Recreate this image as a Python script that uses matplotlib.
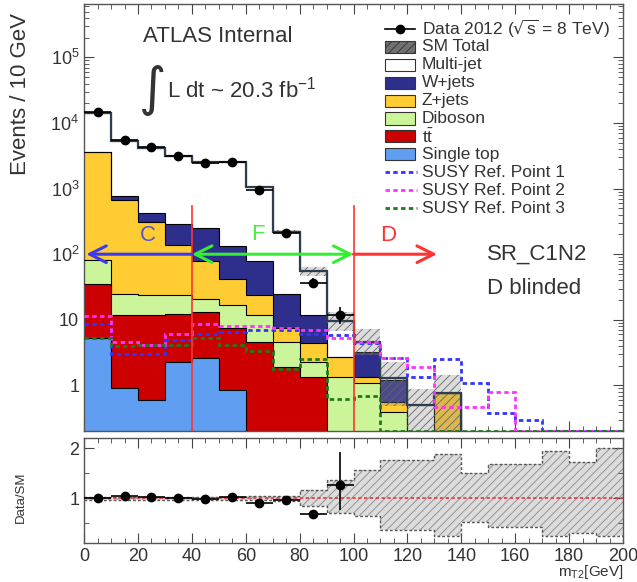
import numpy as np
import matplotlib
matplotlib.use("Agg")
import matplotlib.pyplot as plt
from matplotlib.patches import Rectangle
from matplotlib.lines import Line2D

plt.rcParams['font.family'] = ['Liberation Sans', 'DejaVu Sans']
plt.rcParams['hatch.linewidth'] = 0.6

# binning: 20 bins of 10 GeV
edges = np.arange(0, 210, 10)

# observed data (signal region D above 100 GeV is blinded)
data_counts = np.array([14500, 5500, 4300, 3100, 2450, 2550, 950, 210, 37, 12])

# background components, bottom of the stack first
single_top = np.array([5.2, 0.9, 0.6, 2.3, 2.6, 0.85, 0, 0, 0, 0, 0, 0, 0, 0, 0, 0, 0, 0, 0, 0])
ttbar = np.array([30, 10.8, 11.1, 10.1, 10.4, 6.6, 4.6, 1.9, 1.35, 0, 0, 0, 0, 0, 0, 0, 0, 0, 0, 0])
diboson = np.array([45, 13.3, 11.8, 11.1, 8.0, 9.6, 7.1, 2.7, 0.95, 1.35, 1.07, 0.4, 0, 0, 0, 0, 0, 0, 0, 0])
zjets = np.array([3500, 635, 284, 115, 59, 25, 12.3, 2.8, 2.1, 1.35, 0.29, 0.16, 0, 0.76, 0, 0, 0, 0, 0, 0])
wjets = np.array([5, 104, 118, 151, 169, 93, 56, 17.6, 7.4, 0, 1.9, 0.64, 0, 0, 0, 0, 0, 0, 0, 0])
multijet = np.array([10815, 4536, 3775, 2810, 2251, 2365, 970, 195, 43.2, 6.8, 1.34, 0.1, 0.5, 0, 0, 0, 0, 0, 0, 0])

# relative uncertainty on the SM total
unc_up = np.array([0.03, 0.03, 0.03, 0.03, 0.03, 0.03, 0.04, 0.05, 0.16, 0.37,
                   0.57, 0.77, 0.77, 0.88, 0.50, 0.69, 0.69, 0.95, 0.72, 1.00])
unc_dn = np.array([0.03, 0.03, 0.03, 0.03, 0.03, 0.03, 0.04, 0.05, 0.16, 0.30,
                   0.36, 0.63, 0.63, 0.76, 0.47, 0.57, 0.57, 0.76, 0.70, 0.76])

# signal reference points
susy1 = np.array([8.5, 3.0, 3.0, 5.0, 6.0, 6.5, 7.0, 7.0, 6.0, 5.8, 4.5, 2.6, 1.36, 2.5, 1.1, 0.38, 0.3, 0.2, 0.2, 0.2])
susy2 = np.array([11.5, 4.6, 4.2, 6.0, 8.5, 8.0, 8.0, 7.5, 7.0, 5.2, 4.6, 2.6, 1.9, 0.47, 0.47, 0.8, 0.2, 0.2, 0.2, 0.2])
susy3 = np.array([5.2, 4.0, 4.1, 4.1, 5.2, 4.1, 3.4, 1.8, 2.5, 0.63, 0.7, 0.2, 0.2, 0.2, 0.2, 0.2, 0.2, 0.2, 0.2, 0.2])

# ratio panel error bars on the data points
ratio_err_up = np.array([0.01, 0.01, 0.01, 0.01, 0.02, 0.02, 0.03, 0.04, 0.05, 0.66])
ratio_err_dn = np.array([0.01, 0.01, 0.01, 0.01, 0.02, 0.02, 0.03, 0.04, 0.05, 0.51])

components = [
    ("Single top", single_top, "#5f9ef0"),
    ("t$\\mathregular{\\bar{t}}$", ttbar, "#cc0000"),
    ("Diboson", diboson, "#ccf59a"),
    ("Z+jets", zjets, "#ffcc33"),
    ("W+jets", wjets, "#2e2e8c"),
    ("Multi-jet", multijet, "#ffffff"),
]
susy_styles = [("SUSY Ref. Point 1", susy1, "#3333ff"),
               ("SUSY Ref. Point 2", susy2, "#ff33ff"),
               ("SUSY Ref. Point 3", susy3, "#1f7a1f")]

TXT = "#333333"
tiny = 1e-3
W, H = 637, 582

fig = plt.figure(figsize=(W / 100, H / 100), dpi=100)
ax = fig.add_axes([0.132, 0.259, 0.846, 0.734])
axr = fig.add_axes([0.132, 0.067, 0.846, 0.180])

ax.set_yscale("log")
ax.set_xlim(0, 200)
ax.set_ylim(0.2, 6.5e5)

centers = 0.5 * (edges[:-1] + edges[1:])

# stacked backgrounds
base = np.zeros(len(centers))
for name, vals, col in components:
    top = base + vals
    ax.stairs(np.where(top > 0, top, tiny), edges,
              baseline=np.where(base > 0, base, tiny), fill=True,
              color=col, lw=0, zorder=2)
    base = top
base = np.zeros(len(centers))
for name, vals, col in components:
    top = base + vals
    ax.stairs(np.where(top > 0, top, tiny), edges, baseline=None,
              color="black", lw=0.8, zorder=3)
    base = top
total = base

# uncertainty band on the SM total
for i in range(len(centers)):
    if total[i] <= 0:
        continue
    ax.fill_between([edges[i], edges[i + 1]], total[i] * (1 - unc_dn[i]),
                    total[i] * (1 + unc_up[i]), facecolor=(0.55, 0.55, 0.55, 0.3),
                    edgecolor="#666666", hatch="////", lw=0, zorder=4)
ax.stairs(np.where(total > 0, total, tiny), edges, baseline=None,
          color="#2f3e4e", lw=1.6, zorder=5)

# signal reference points
dash = (0, (1.6, 1.2))
for name, vals, col in susy_styles:
    ax.stairs(vals, edges, baseline=None, color=col, lw=2, ls=dash, zorder=6)

# data
nd = len(data_counts)
ax.errorbar(centers[:nd], data_counts, yerr=np.sqrt(data_counts), xerr=5,
            fmt="o", color="black", ms=6, lw=1.2, capsize=0, zorder=8)

# region boundaries and arrows
for xv in (40, 100):
    ax.plot([xv, xv], [0.2, 550], color="#ff3333", lw=1.2, zorder=7)
arrow_kw = dict(lw=2.2, mutation_scale=30, shrinkA=0, shrinkB=0)
ax.annotate("", xy=(0.8, 100), xytext=(40, 100),
            arrowprops=dict(arrowstyle="->", color="#3a3af0", **arrow_kw), zorder=9)
ax.annotate("", xy=(40, 100), xytext=(100, 100),
            arrowprops=dict(arrowstyle="<->", color="#33ee33", **arrow_kw), zorder=9)
ax.annotate("", xy=(131, 100), xytext=(100, 100),
            arrowprops=dict(arrowstyle="->", color="#ff3333", **arrow_kw), zorder=9)
ax.text(23.5, 195, "C", color="#5555dd", fontsize=16, ha="center", va="center", zorder=9)
ax.text(64.5, 200, "F", color="#44ee44", fontsize=16, ha="center", va="center", zorder=9)
ax.text(113, 195, "D", color="#ff3333", fontsize=16, ha="center", va="center", zorder=9)


def fx(px):
    return px / W


def fy(py):
    return 1 - py / H


fig.text(fx(143), fy(37), "ATLAS Internal", fontsize=16, color=TXT, ha="left", va="center")
fig.text(fx(139), fy(90), "\u222b", fontsize=38, color=TXT, ha="left", va="center",
         family="DejaVu Sans")
fig.text(fx(167), fy(90), "L dt ~ 20.3 fb$^{\\mathregular{-1}}$", fontsize=16,
         color=TXT, ha="left", va="center")
fig.text(fx(487), fy(254), "SR_C1N2", fontsize=16, color=TXT, ha="left", va="center")
fig.text(fx(487), fy(289), "D blinded", fontsize=16, color=TXT, ha="left", va="center")

# legend, one row per entry
rows = [("Data 2012 ($\\sqrt{\\mathregular{s}}$ = 8 TeV)", "data", None),
        ("SM Total", "box", ("#707070", "////"))]
for name, vals, col in reversed(components):
    rows.append((name, "box", (col, None)))
for name, vals, col in susy_styles:
    rows.append((name, "line", col))
y0, dy = 29, 17.9
for i, (label, kind, sty) in enumerate(rows):
    yc = y0 + dy * i
    if kind == "data":
        fig.add_artist(Line2D([fx(385), fx(415)], [fy(yc), fy(yc)], color="black", lw=1.2))
        fig.add_artist(Line2D([fx(400)], [fy(yc)], color="black", marker="o", ms=6))
    elif kind == "box":
        col, hatch = sty
        fig.add_artist(Rectangle((fx(385), fy(yc + 6)), 30 / W, 12 / H,
                                 transform=fig.transFigure, facecolor=col,
                                 edgecolor="#333333", lw=0.8, hatch=hatch))
    else:
        fig.add_artist(Line2D([fx(385), fx(417)], [fy(yc), fy(yc)], color=sty, lw=2, ls=dash))
    fig.text(fx(422), fy(yc), label, fontsize=12.5, color=TXT, ha="left", va="center")

# axis cosmetics
for a in (ax, axr):
    a.tick_params(which="both", direction="in", top=True, right=True,
                  labelsize=13, labelcolor=TXT, color="#444444")
    a.tick_params(which="major", length=7)
    a.tick_params(which="minor", length=3.5)
    a.xaxis.set_major_locator(matplotlib.ticker.MultipleLocator(20))
    a.xaxis.set_minor_locator(matplotlib.ticker.MultipleLocator(5))
    for s in a.spines.values():
        s.set_color("#555555")
        s.set_linewidth(1.0)
ax.tick_params(labelbottom=False)
ax.xaxis.set_major_formatter(matplotlib.ticker.NullFormatter())
ax.yaxis.set_major_locator(matplotlib.ticker.FixedLocator([1, 10, 1e2, 1e3, 1e4, 1e5]))
ax.yaxis.set_minor_locator(matplotlib.ticker.LogLocator(base=10, subs=np.arange(2, 10), numticks=20))


def log_fmt(v, pos):
    if v == 1:
        return "1"
    if v == 10:
        return "10"
    return "10$^{\\mathregular{%d}}$" % int(round(np.log10(v)))


ax.yaxis.set_major_formatter(matplotlib.ticker.FuncFormatter(log_fmt))
ax.yaxis.set_minor_formatter(matplotlib.ticker.NullFormatter())

# ratio panel
axr.set_xlim(0, 200)
axr.set_ylim(0.1, 2.2)
axr.yaxis.set_major_locator(matplotlib.ticker.FixedLocator([1, 2]))
axr.yaxis.set_minor_locator(matplotlib.ticker.FixedLocator([0.5, 1.5]))
axr.stairs(1 + unc_up, edges, baseline=1 - unc_dn, fill=True, facecolor="#dcdcdc",
           edgecolor="#888888", hatch="////", lw=0, zorder=1)
axr.stairs(1 + unc_up, edges, baseline=None, color="#555555", lw=1, ls=(0, (2, 1.5)), zorder=2)
axr.stairs(1 - unc_dn, edges, baseline=None, color="#555555", lw=1, ls=(0, (2, 1.5)), zorder=2)
axr.axhline(1, color="#ee3333", lw=1.2, ls=(0, (2, 1.5)), zorder=3)
ratio = data_counts / total[:nd]
axr.errorbar(centers[:nd], ratio, yerr=[ratio_err_dn, ratio_err_up], xerr=5,
             fmt="o", color="black", ms=6, lw=1.2, capsize=0, zorder=4)

fig.text(fx(21), fy(13), "Events / 10 GeV", rotation=90, ha="center", va="top",
         fontsize=16, color=TXT)
fig.text(fx(21), fy(497), "Data/SM", rotation=90, ha="center", va="center",
         fontsize=9.5, color=TXT)
fig.text(fx(624), fy(581), "m$_{\\mathregular{T2}}$[GeV]", ha="right", va="bottom",
         fontsize=11, color=TXT)

fig.savefig("out.png", dpi=100)
